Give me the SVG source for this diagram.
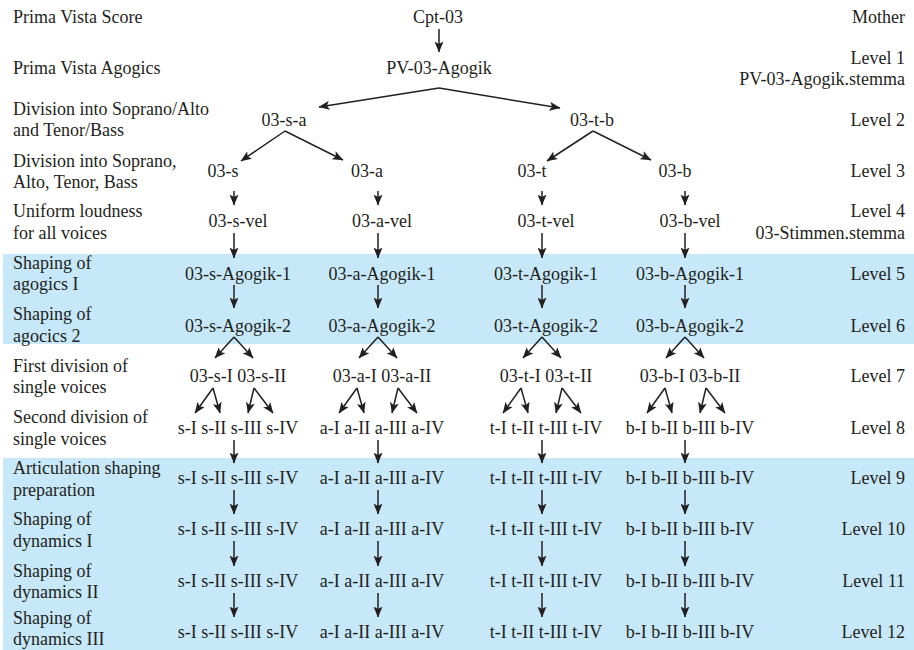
<svg xmlns="http://www.w3.org/2000/svg" width="914" height="650" viewBox="0 0 914 650">
<style>
text{font-family:"Liberation Serif","Times New Roman",serif;font-size:18px;fill:#231f20}
.n{text-anchor:middle}
.r{text-anchor:end}
.band{fill:#c6e8f8}
.c line{stroke:#231f20;stroke-width:1.5;marker-end:url(#ah)}
</style>
<defs>
<marker id="ah" viewBox="0 0 11 9" refX="10.5" refY="4.5" markerWidth="11" markerHeight="9" markerUnits="userSpaceOnUse" orient="auto">
<path d="M0,0 L11,4.5 L0,9 L2.5,4.5 z" fill="#231f20"/>
</marker>
</defs>
<rect class="band" x="3" y="254" width="911" height="90"/>
<rect class="band" x="3" y="458" width="911" height="192"/>

<g id="left-labels">
<text x="13" y="23">Prima Vista Score</text>
<text x="13" y="74">Prima Vista Agogics</text>
<text x="13" y="115">Division into Soprano/Alto</text>
<text x="13" y="136">and Tenor/Bass</text>
<text x="13" y="167">Division into Soprano,</text>
<text x="13" y="188">Alto, Tenor, Bass</text>
<text x="13" y="217">Uniform loudness</text>
<text x="13" y="239">for all voices</text>
<text x="13" y="269">Shaping of</text>
<text x="13" y="290">agogics I</text>
<text x="13" y="320">Shaping of</text>
<text x="13" y="342">agocics 2</text>
<text x="13" y="372">First division of</text>
<text x="13" y="393">single voices</text>
<text x="13" y="423">Second division of</text>
<text x="13" y="445">single voices</text>
<text x="13" y="474">Articulation shaping</text>
<text x="13" y="496">preparation</text>
<text x="13" y="525">Shaping of</text>
<text x="13" y="547">dynamics I</text>
<text x="13" y="577">Shaping of</text>
<text x="13" y="598">dynamics II</text>
<text x="13" y="624">Shaping of</text>
<text x="13" y="645">dynamics III</text>
</g>

<g id="right-labels">
<text class="r" x="905" y="23">Mother</text>
<text class="r" x="905" y="64">Level 1</text>
<text class="r" x="905" y="85">PV-03-Agogik.stemma</text>
<text class="r" x="905" y="126">Level 2</text>
<text class="r" x="905" y="177">Level 3</text>
<text class="r" x="905" y="217">Level 4</text>
<text class="r" x="905" y="239">03-Stimmen.stemma</text>
<text class="r" x="905" y="280">Level 5</text>
<text class="r" x="905" y="332">Level 6</text>
<text class="r" x="905" y="382">Level 7</text>
<text class="r" x="905" y="434">Level 8</text>
<text class="r" x="905" y="484">Level 9</text>
<text class="r" x="905" y="535">Level 10</text>
<text class="r" x="905" y="587">Level 11</text>
<text class="r" x="905" y="638">Level 12</text>
</g>

<g id="cpt-03"><text class="n" x="438" y="23">Cpt-03</text></g>
<g id="pv-03-agogik"><text class="n" x="439" y="74">PV-03-Agogik</text></g>
<g id="n03-s-a"><text class="n" x="284" y="126">03-s-a</text></g>
<g id="n03-t-b"><text class="n" x="592" y="126">03-t-b</text></g>
<g id="n03-s"><text class="n" x="223" y="177">03-s</text></g>
<g id="n03-a"><text class="n" x="367" y="177">03-a</text></g>
<g id="n03-t"><text class="n" x="532" y="177">03-t</text></g>
<g id="n03-b"><text class="n" x="675" y="177">03-b</text></g>

<g id="n03-s-vel"><text class="n" x="238" y="227">03-s-vel</text></g>
<g id="n03-a-vel"><text class="n" x="382" y="227">03-a-vel</text></g>
<g id="n03-t-vel"><text class="n" x="546" y="227">03-t-vel</text></g>
<g id="n03-b-vel"><text class="n" x="690" y="227">03-b-vel</text></g>

<g id="n03-s-agogik-1"><text class="n" x="238" y="280">03-s-Agogik-1</text></g>
<g id="n03-a-agogik-1"><text class="n" x="382" y="280">03-a-Agogik-1</text></g>
<g id="n03-t-agogik-1"><text class="n" x="546" y="280">03-t-Agogik-1</text></g>
<g id="n03-b-agogik-1"><text class="n" x="690" y="280">03-b-Agogik-1</text></g>

<g id="n03-s-agogik-2"><text class="n" x="238" y="332">03-s-Agogik-2</text></g>
<g id="n03-a-agogik-2"><text class="n" x="382" y="332">03-a-Agogik-2</text></g>
<g id="n03-t-agogik-2"><text class="n" x="546" y="332">03-t-Agogik-2</text></g>
<g id="n03-b-agogik-2"><text class="n" x="690" y="332">03-b-Agogik-2</text></g>

<g id="n03-s-I-II"><text class="n" x="238" y="382">03-s-I 03-s-II</text></g>
<g id="n03-a-I-II"><text class="n" x="382" y="382">03-a-I 03-a-II</text></g>
<g id="n03-t-I-II"><text class="n" x="546" y="382">03-t-I 03-t-II</text></g>
<g id="n03-b-I-II"><text class="n" x="690" y="382">03-b-I 03-b-II</text></g>

<g id="s-l8"><text class="n" x="238" y="434">s-I s-II s-III s-IV</text></g>
<g id="a-l8"><text class="n" x="382" y="434">a-I a-II a-III a-IV</text></g>
<g id="t-l8"><text class="n" x="546" y="434">t-I t-II t-III t-IV</text></g>
<g id="b-l8"><text class="n" x="690" y="434">b-I b-II b-III b-IV</text></g>

<g id="s-l9"><text class="n" x="238" y="484">s-I s-II s-III s-IV</text></g>
<g id="a-l9"><text class="n" x="382" y="484">a-I a-II a-III a-IV</text></g>
<g id="t-l9"><text class="n" x="546" y="484">t-I t-II t-III t-IV</text></g>
<g id="b-l9"><text class="n" x="690" y="484">b-I b-II b-III b-IV</text></g>

<g id="s-l10"><text class="n" x="238" y="535">s-I s-II s-III s-IV</text></g>
<g id="a-l10"><text class="n" x="382" y="535">a-I a-II a-III a-IV</text></g>
<g id="t-l10"><text class="n" x="546" y="535">t-I t-II t-III t-IV</text></g>
<g id="b-l10"><text class="n" x="690" y="535">b-I b-II b-III b-IV</text></g>

<g id="s-l11"><text class="n" x="238" y="587">s-I s-II s-III s-IV</text></g>
<g id="a-l11"><text class="n" x="382" y="587">a-I a-II a-III a-IV</text></g>
<g id="t-l11"><text class="n" x="546" y="587">t-I t-II t-III t-IV</text></g>
<g id="b-l11"><text class="n" x="690" y="587">b-I b-II b-III b-IV</text></g>

<g id="s-l12"><text class="n" x="238" y="638">s-I s-II s-III s-IV</text></g>
<g id="a-l12"><text class="n" x="382" y="638">a-I a-II a-III a-IV</text></g>
<g id="t-l12"><text class="n" x="546" y="638">t-I t-II t-III t-IV</text></g>
<g id="b-l12"><text class="n" x="690" y="638">b-I b-II b-III b-IV</text></g>

<g id="connectors" class="c">
<line x1="439" y1="29" x2="439" y2="52"/>
<line x1="439" y1="88" x2="319" y2="107"/>
<line x1="439" y1="88" x2="560" y2="108"/>
<line x1="285" y1="131" x2="241" y2="161"/>
<line x1="285" y1="131" x2="343" y2="160"/>
<line x1="593" y1="131" x2="547" y2="161"/>
<line x1="593" y1="131" x2="651" y2="160"/>

<line x1="234" y1="191" x2="234" y2="205"/>
<line x1="378" y1="191" x2="378" y2="205"/>
<line x1="542" y1="191" x2="542" y2="205"/>
<line x1="685" y1="191" x2="685" y2="205"/>

<line x1="234" y1="233" x2="234" y2="258"/>
<line x1="378" y1="233" x2="378" y2="258"/>
<line x1="542" y1="233" x2="542" y2="258"/>
<line x1="685" y1="233" x2="685" y2="258"/>

<line x1="234" y1="285" x2="234" y2="308"/>
<line x1="378" y1="285" x2="378" y2="308"/>
<line x1="542" y1="285" x2="542" y2="308"/>
<line x1="685" y1="285" x2="685" y2="308"/>

<line x1="234" y1="337" x2="215" y2="358"/>
<line x1="234" y1="337" x2="253" y2="358"/>
<line x1="378" y1="337" x2="359" y2="358"/>
<line x1="378" y1="337" x2="397" y2="358"/>
<line x1="542" y1="337" x2="523" y2="358"/>
<line x1="542" y1="337" x2="561" y2="358"/>
<line x1="685" y1="337" x2="666" y2="358"/>
<line x1="685" y1="337" x2="704" y2="358"/>

<line x1="213" y1="388" x2="195" y2="413"/>
<line x1="213" y1="388" x2="220" y2="413"/>
<line x1="254" y1="388" x2="248" y2="413"/>
<line x1="254" y1="388" x2="273" y2="413"/>
<line x1="357" y1="388" x2="339" y2="413"/>
<line x1="357" y1="388" x2="364" y2="413"/>
<line x1="398" y1="388" x2="392" y2="413"/>
<line x1="398" y1="388" x2="417" y2="413"/>
<line x1="521" y1="388" x2="503" y2="413"/>
<line x1="521" y1="388" x2="528" y2="413"/>
<line x1="562" y1="388" x2="556" y2="413"/>
<line x1="562" y1="388" x2="581" y2="413"/>
<line x1="665" y1="388" x2="647" y2="413"/>
<line x1="665" y1="388" x2="672" y2="413"/>
<line x1="706" y1="388" x2="700" y2="413"/>
<line x1="706" y1="388" x2="725" y2="413"/>

<line x1="234" y1="440" x2="234" y2="463"/>
<line x1="378" y1="440" x2="378" y2="463"/>
<line x1="542" y1="440" x2="542" y2="463"/>
<line x1="685" y1="440" x2="685" y2="463"/>

<line x1="234" y1="490" x2="234" y2="514"/>
<line x1="378" y1="490" x2="378" y2="514"/>
<line x1="542" y1="490" x2="542" y2="514"/>
<line x1="685" y1="490" x2="685" y2="514"/>

<line x1="234" y1="541" x2="234" y2="566"/>
<line x1="378" y1="541" x2="378" y2="566"/>
<line x1="542" y1="541" x2="542" y2="566"/>
<line x1="685" y1="541" x2="685" y2="566"/>

<line x1="234" y1="593" x2="234" y2="617"/>
<line x1="378" y1="593" x2="378" y2="617"/>
<line x1="542" y1="593" x2="542" y2="617"/>
<line x1="685" y1="593" x2="685" y2="617"/>
</g>
</svg>
